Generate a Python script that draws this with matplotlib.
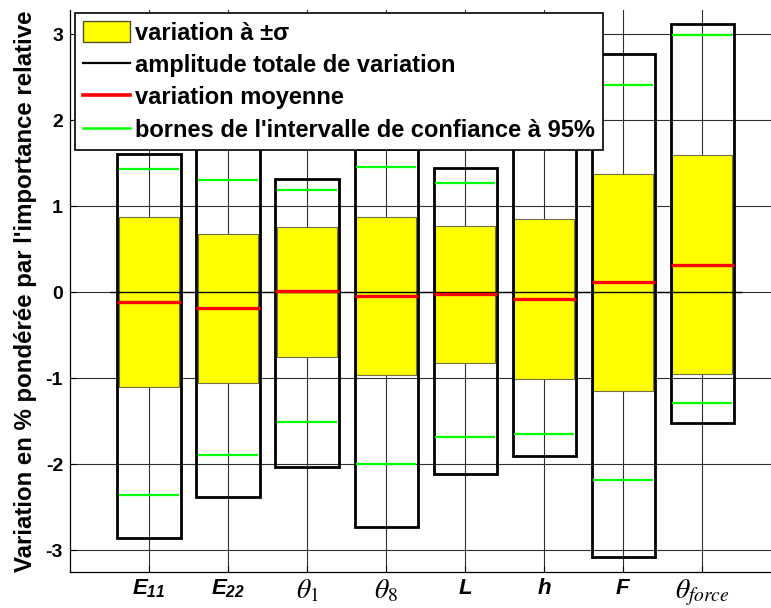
import matplotlib
matplotlib.use("Agg")
import matplotlib.pyplot as plt
from matplotlib.patches import Patch
from matplotlib.lines import Line2D

# valeurs
labels = [r"$E_{11}$", r"$E_{22}$", r"$\theta_1$", r"$\theta_8$",
          r"$L$", r"$h$", r"$F$", r"$\theta_{force}$"]
math_fonts = ["custom", "custom", "stix", "stix", "custom", "custom", "custom", "stix"]
box_max = [1.61, 1.90, 1.32, 1.67, 1.44, 1.85, 2.77, 3.12]
box_min = [-2.85, -2.38, -2.03, -2.73, -2.11, -1.90, -3.07, -1.52]
ci_hi = [1.43, 1.31, 1.19, 1.46, 1.27, 1.67, 2.41, 2.99]
ci_lo = [-2.36, -1.89, -1.51, -2.00, -1.68, -1.65, -2.18, -1.29]
sd_hi = [0.87, 0.68, 0.76, 0.87, 0.77, 0.85, 1.37, 1.60]
sd_lo = [-1.10, -1.05, -0.75, -0.96, -0.82, -1.01, -1.15, -0.95]
moyenne = [-0.11, -0.18, 0.01, -0.04, -0.02, -0.08, 0.12, 0.32]
yticks = [-3, -2, -1, 0, 1, 2, 3]

plt.rcParams['font.family'] = ['Liberation Sans', 'DejaVu Sans']
plt.rcParams['mathtext.fontset'] = 'custom'
plt.rcParams['mathtext.it'] = 'Liberation Sans:bold:italic'
plt.rcParams['mathtext.rm'] = 'Liberation Sans:bold:italic'
plt.rcParams['mathtext.bf'] = 'Liberation Sans:bold:italic'

fig = plt.figure(figsize=(7.71, 6.08), dpi=100)
ax = fig.add_axes([70 / 771, 36 / 608, 1 - 70 / 771, (572 - 10) / 608])

x = list(range(1, len(labels) + 1))
haut = [h - b for h, b in zip(sd_hi, sd_lo)]
amp = [h - b for h, b in zip(box_max, box_min)]

ax.bar(x, haut, bottom=sd_lo, width=0.76, color=(1, 1, 0),
       edgecolor='#707040', linewidth=0.8, zorder=2)
ax.hlines(0, 0.5, 8.5, color='black', linewidth=1.0, zorder=3)
ax.bar(x, amp, bottom=box_min, width=0.8, fill=False,
       edgecolor='black', linewidth=2.0, zorder=4)
ax.hlines(moyenne, [i - 0.4 for i in x], [i + 0.4 for i in x],
          color='red', linewidth=2.4, zorder=5)
ax.hlines(ci_hi, [i - 0.38 for i in x], [i + 0.38 for i in x],
          color=(0, 1, 0), linewidth=1.6, zorder=5)
ax.hlines(ci_lo, [i - 0.38 for i in x], [i + 0.38 for i in x],
          color=(0, 1, 0), linewidth=1.6, zorder=5)

ax.set_xlim(0, 8.87)
ax.set_ylim(-3.25, 3.28)
ax.set_yticks(yticks)
ax.set_yticklabels([str(v) for v in yticks], fontsize=14, fontweight='bold')
ax.set_xticks(x)
ax.set_xticklabels(labels)
for t, mf in zip(ax.get_xticklabels(), math_fonts):
    t.set_math_fontfamily(mf)
    t.set_fontsize(20 if mf == "stix" else 16)
ax.tick_params(direction='in', length=4, width=0.8, pad=5)
ax.tick_params(axis='x', pad=4)
ax.grid(True, color='#303030', linewidth=0.8)
ax.set_axisbelow(True)
for s in ['top', 'right']:
    ax.spines[s].set_visible(False)
for s in ['left', 'bottom']:
    ax.spines[s].set_linewidth(0.9)

fig.text(0.033, (608 - 291) / 608, "Variation en % pondérée par l'importance relative",
         rotation=90, ha='center', va='center', fontsize=17.3, fontweight='bold')

handles = [
    Patch(facecolor=(1, 1, 0), edgecolor='#505030', linewidth=1.0),
    Line2D([], [], color='black', linewidth=1.6),
    Line2D([], [], color='red', linewidth=2.6),
    Line2D([], [], color=(0, 1, 0), linewidth=1.8),
]
noms = ["variation à ±σ", "amplitude totale de variation",
        "variation moyenne", "bornes de l'intervalle de confiance à 95%"]
leg = fig.legend(handles, noms, loc='upper left',
                 bbox_to_anchor=(75 / 771, 1 - 13 / 608),
                 prop={'weight': 'bold', 'size': 17}, fancybox=False,
                 framealpha=1, edgecolor='black', handlelength=2.0,
                 handleheight=1.0, labelspacing=0.37, borderpad=0.34,
                 handletextpad=0.22, borderaxespad=0)
leg.get_frame().set_linewidth(1.2)
leg.set_zorder(10)

fig.savefig("out.png", dpi=100)
